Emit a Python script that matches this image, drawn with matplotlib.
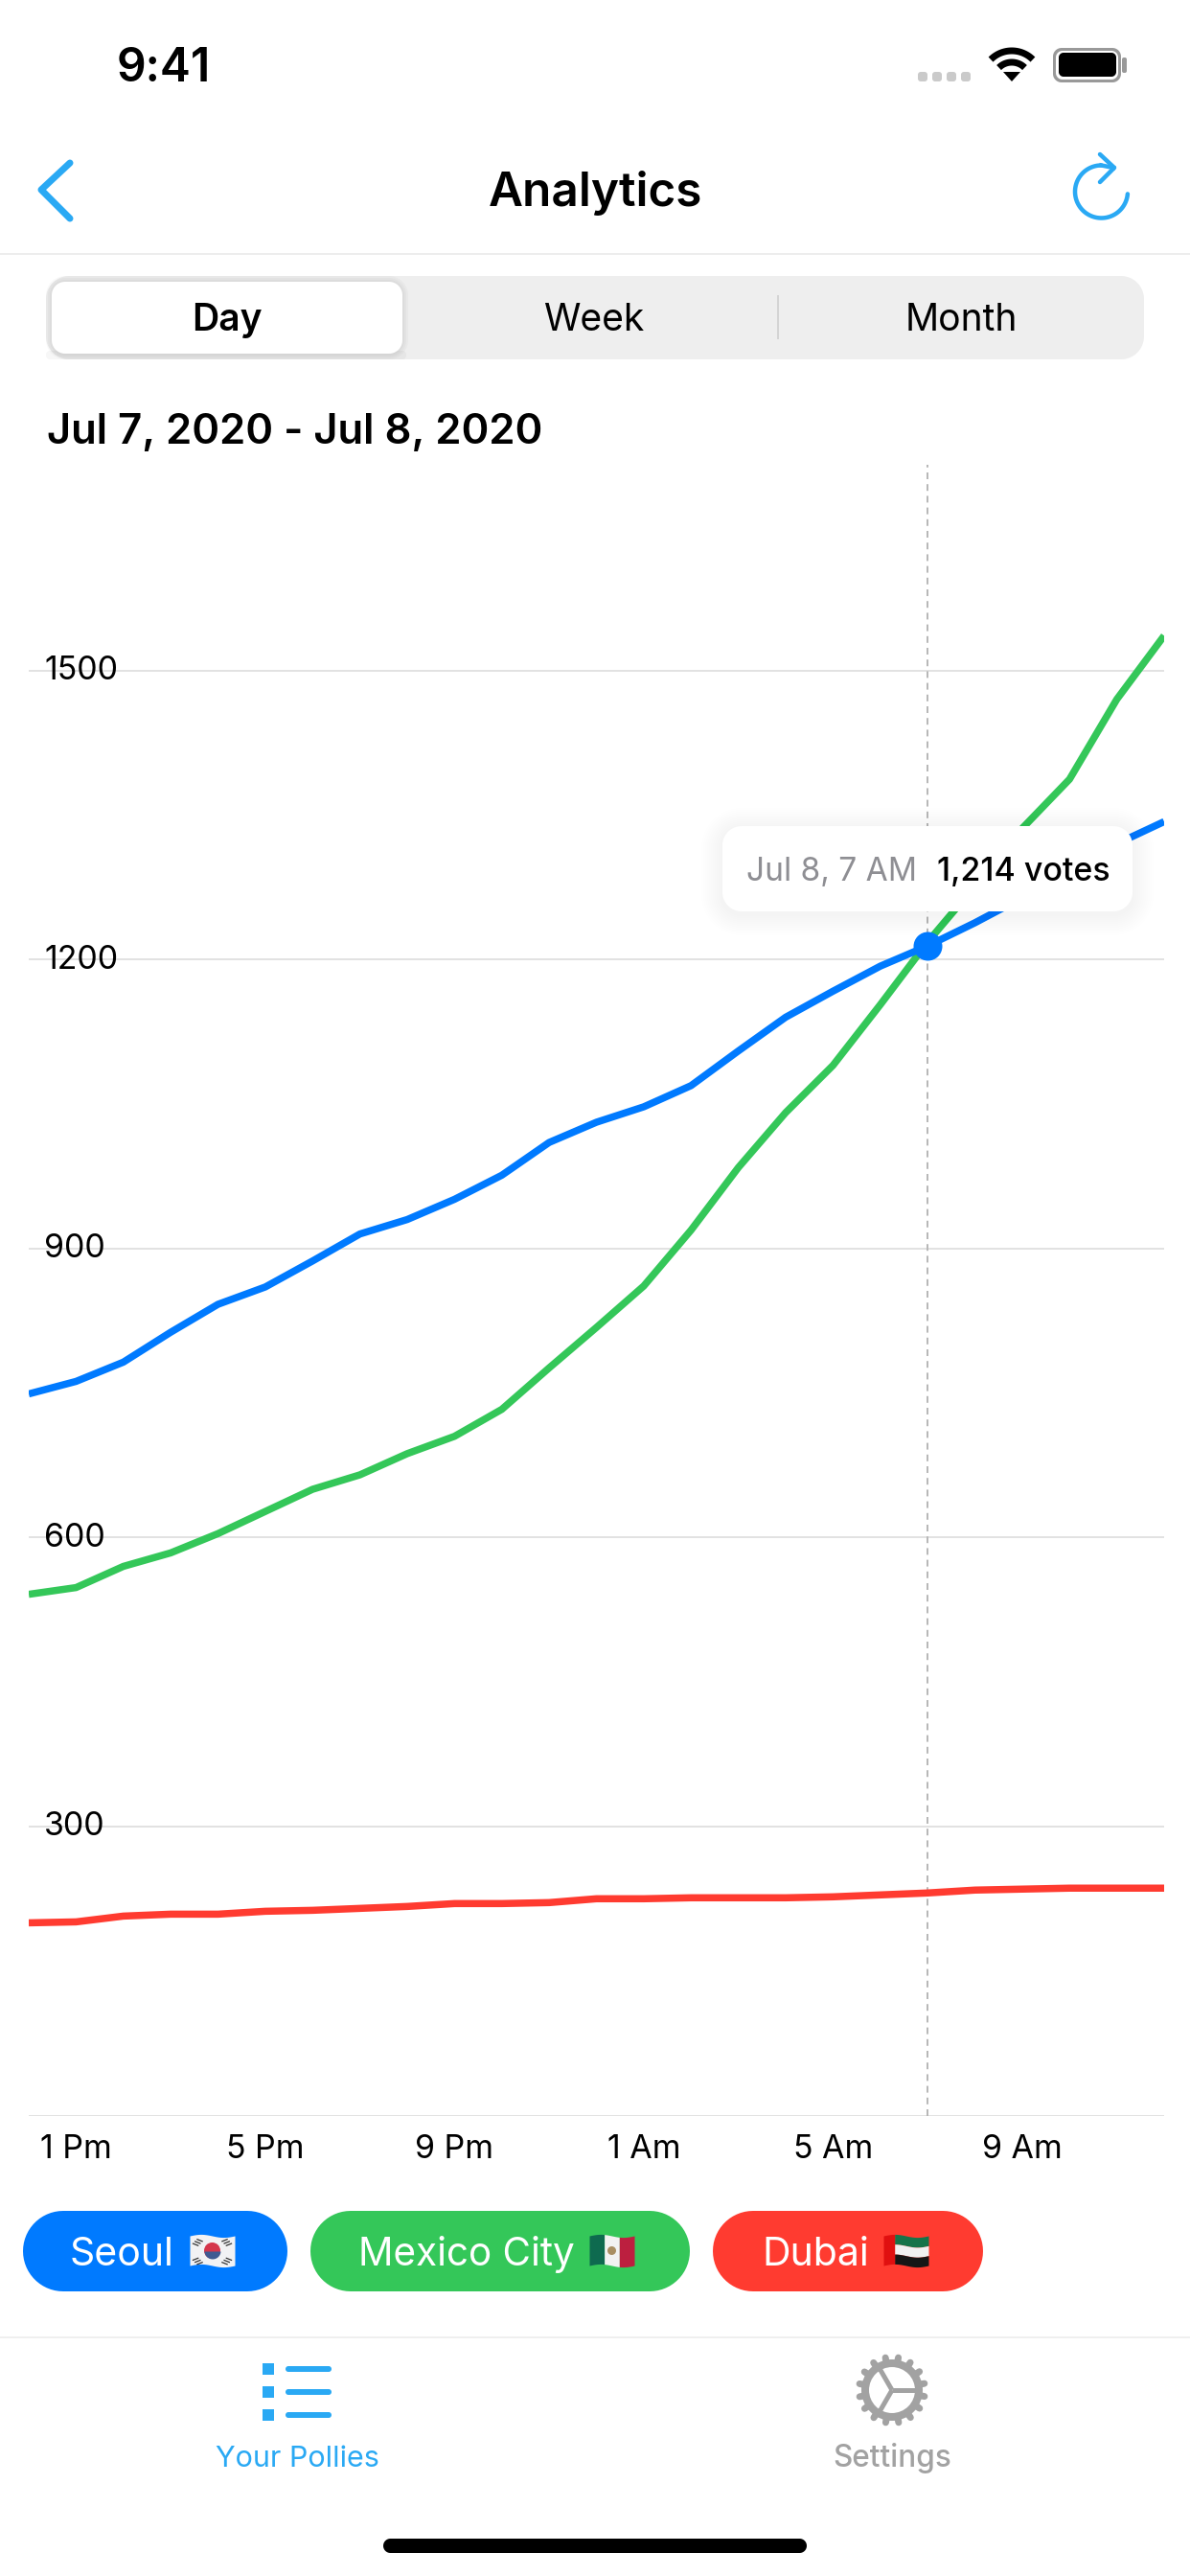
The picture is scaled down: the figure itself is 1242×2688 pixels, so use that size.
import numpy as np
import matplotlib
matplotlib.use('Agg')
import matplotlib.pyplot as plt
from matplotlib.patches import Rectangle, Circle, Polygon
from matplotlib.transforms import ScaledTranslation

plt.rcParams['font.family'] = ['Inter', 'DejaVu Sans']

# hourly votes, noon Jul 7 to noon Jul 8
seoul = [749, 762, 782, 813, 842, 860, 887, 915, 930, 951, 976, 1010, 1031, 1047, 1069,
         1105, 1140, 1167, 1193, 1214, 1238, 1264, 1292, 1320, 1343]
mexico_city = [541, 548, 570, 584, 604, 627, 650, 665, 687, 705, 733, 776, 818, 861, 919,
               984, 1041, 1090, 1153, 1218, 1276, 1336, 1387, 1470, 1536]
dubai = [200, 201, 207, 209, 209, 212, 213, 215, 217, 220, 220, 221, 225, 225, 226,
         226, 226, 227, 229, 231, 234, 235, 236, 236, 236]
hours = list(range(len(seoul)))

y_ticks = [0, 300, 600, 900, 1200, 1500]
y_labels = ['', '300', '600', '900', '1200', '1500']
x_ticks = [1, 5, 9, 13, 17, 21]
x_labels = ['1 Pm', '5 Pm', '9 Pm', '1 Am', '5 Am', '9 Am']
y_max = 1713.4
cursor_hour = 19
cursor_label = 'Jul 8, 7 AM'

segments = ['Day', 'Week', 'Month']
date_range = 'Jul 7, 2020 - Jul 8, 2020'

BLUE = '#007AFF'
GREEN = '#34C759'
RED = '#FF3B30'
ACCENT = '#2AA9F4'
GREY = '#A2A2A2'
W, H = 1242, 2688


def px(size):
    return size * 0.72


def box(ax, x0, y0, x1, y1, r, color, alpha=1.0, z=2):
    # rounded box with true circular corners, the fancy box corners come out too square
    pts = []
    corners = [(x1 - r, y0 + r, -90), (x1 - r, y1 - r, 0), (x0 + r, y1 - r, 90), (x0 + r, y0 + r, 180)]
    for cx, cy, start in corners:
        a = np.radians(np.linspace(start, start + 90, 16))
        pts.append(np.column_stack([cx + r * np.cos(a), cy + r * np.sin(a)]))
    ax.add_patch(Polygon(np.vstack(pts), closed=True, fc=color, ec='none', alpha=alpha, zorder=z))


def shadow(ax, x0, y0, x1, y1, r, spread, alpha, dy=0, z=2):
    for i in range(spread, 0, -2):
        box(ax, x0 - i, y0 - i + dy, x1 + i, y1 + i + dy, r + i, 'black', alpha, z)


def wavy(ax, x0, x1, y0, y1, color, x_span, z=5):
    # one band of an emoji flag, the cloth has a slight wave
    x = np.linspace(x0, x1, 20)
    off = 1.6 * np.sin((x - x_span[0]) / (x_span[1] - x_span[0]) * 2 * np.pi)
    ax.fill_between(x, y0 - off, y1 - off, color=color, lw=0, zorder=z)


def flag_korea(ax, x0, y0, x1, y1):
    span = (x0, x1)
    wavy(ax, x0, x1, y0, y1, '#F2F2F4', span)
    cx, cy = (x0 + x1) / 2, (y0 + y1) / 2
    ax.add_patch(Circle((cx, cy), 8.5, fc='#D5364C', ec='none', zorder=6))
    t = np.linspace(0, np.pi, 30)
    ax.fill_between(cx + 8.5 * np.cos(t), cy + 0.5, cy + 8.5 * np.sin(t), color='#3F5A92', lw=0, zorder=6)
    for sx, sy in [(-1, -1), (1, -1), (-1, 1), (1, 1)]:
        for k in range(3):
            ax.plot([cx + sx * (13 + k * 2.2) - sy * sx * 3.2, cx + sx * (13 + k * 2.2) + sy * sx * 3.2],
                    [cy + sy * (12 - k * 2.2), cy + sy * (12 - k * 2.2) + 2.5],
                    color='#333333', lw=0.9, zorder=6, solid_capstyle='butt')


def flag_mexico(ax, x0, y0, x1, y1):
    span = (x0, x1)
    third = (x1 - x0) / 3
    wavy(ax, x0, x0 + third, y0, y1, '#0E6A4F', span)
    wavy(ax, x0 + third, x1 - third, y0, y1, '#F2F2F2', span)
    wavy(ax, x1 - third, x1, y0, y1, '#BC1F3F', span)
    ax.add_patch(Circle(((x0 + x1) / 2, (y0 + y1) / 2), 4.5, fc='#A98E62', ec='none', zorder=6))


def flag_uae(ax, x0, y0, x1, y1):
    span = (x0, x1)
    split = x0 + (x1 - x0) * 0.25
    band = (y1 - y0) / 3
    wavy(ax, x0, split, y0, y1, '#E01010', span)
    wavy(ax, split, x1, y0, y0 + band, '#16744A', span)
    wavy(ax, split, x1, y0 + band, y0 + 2 * band, '#F1F1F1', span)
    wavy(ax, split, x1, y0 + 2 * band, y1, '#161616', span)


fig = plt.figure(figsize=(W / 100, H / 100), dpi=100, facecolor='white')

# chart
ax = fig.add_axes([30 / W, 1 - 2207.5 / H, (1215 - 30) / W, (2207.5 - 485) / H])
ax.set_xlim(0, 24)
ax.set_ylim(0, y_max)
for s in ax.spines.values():
    s.set_visible(False)
ax.set_yticks(y_ticks)
ax.set_yticklabels(y_labels, ha='left', fontsize=px(34))
ax.set_xticks(x_ticks)
ax.set_xticklabels(x_labels, fontsize=px(34))
ax.tick_params(axis='y', length=0, pad=px(-16))
ax.tick_params(axis='x', length=0, pad=px(19))
ax.grid(axis='y', color='#E2E2E2', lw=px(2))
ax.set_axisbelow(True)
lift = ScaledTranslation(0, 3 / 100, fig.dpi_scale_trans)
for tick in ax.yaxis.get_major_ticks():
    tick.label1.set_transform(tick.label1.get_transform() + lift)
    tick.label1.set_zorder(6)

ax.axvline(cursor_hour, color='#B8B8B8', lw=px(2), dashes=(3.5, 2.6), zorder=1.5)
ax.plot(hours, dubai, color=RED, lw=px(7.5), solid_capstyle='butt', zorder=2)
ax.plot(hours, mexico_city, color=GREEN, lw=px(7.5), solid_capstyle='butt', zorder=2.1)
ax.plot(hours, seoul, color=BLUE, lw=px(7.5), solid_capstyle='butt', zorder=2.2)
ax.plot([cursor_hour], [seoul[cursor_hour]], 'o', color=BLUE, ms=px(30), mew=0, zorder=3)

# phone chrome on a pixel sized overlay
ui = fig.add_axes([0, 0, 1, 1], zorder=5)
ui.set_xlim(0, W)
ui.set_ylim(H, 0)
ui.axis('off')

# status bar
ui.text(122, 85, '9:41', fontsize=px(48), weight='semibold', color='black', va='baseline')
for i in range(4):
    box(ui, 958 + i * 15, 75, 968 + i * 15, 85, 3, '#CACACA')
t = np.radians(np.linspace(45, 135, 30))
for r in [31, 19]:
    ui.plot(1056 + r * np.cos(t), 84 - r * np.sin(t), color='black', lw=px(7), solid_capstyle='butt')
ui.add_patch(Polygon([[1056, 85], [1047, 75], [1065, 75]], fc='black', ec='none'))
box(ui, 1099, 50, 1170, 86, 9, '#999999')
box(ui, 1102, 53, 1167, 83, 7, 'white')
box(ui, 1105, 55, 1165, 80, 5, 'black')
box(ui, 1171, 60, 1176, 76, 2, '#999999')

# nav bar
ui.plot([73, 43, 73], [170, 198, 228], color=ACCENT, lw=px(7), solid_capstyle='round', solid_joinstyle='round')
ui.text(621, 215, 'Analytics', fontsize=px(49.5), weight='semibold', ha='center', va='baseline', color='black')
t = np.radians(np.linspace(90, 355, 80))
ui.plot(1149.5 + 27.5 * np.cos(t), 200 - 27.5 * np.sin(t), color=ACCENT, lw=px(4.5), solid_capstyle='round')
ui.plot([1149.5, 1162], [172.5, 175], color=ACCENT, lw=px(4.5))
ui.plot([1148, 1163, 1148], [161, 175, 190], color=ACCENT, lw=px(4.5), solid_capstyle='round', solid_joinstyle='round')
ui.plot([0, W], [264.5, 264.5], color='#EDEDED', lw=px(2))

# segmented control
box(ui, 48, 288, 1194, 375, 24, '#EEEEEE')
shadow(ui, 54, 294, 420, 369, 14, 6, 0.025, z=2)
box(ui, 48, 366, 424, 375, 4, '#000000', 0.03, z=2)
box(ui, 54, 294, 420, 369, 14, 'white', z=3)
ui.plot([812, 812], [309, 353], color='#D4D4D4', lw=px(2))
for label, cx, wgt in zip(segments, [237, 620, 1003], ['semibold', 'normal', 'normal']):
    ui.text(cx, 345, label, fontsize=px(39), weight=wgt, ha='center', va='baseline', color='black', zorder=4)

ui.text(49, 463, date_range, fontsize=px(43.6), weight='semibold', va='baseline', color='black')

# tooltip
shadow(ui, 754, 862, 1182, 951, 20, 22, 0.004, dy=3, z=2)
box(ui, 754, 862, 1182, 951, 20, 'white', z=3)
ui.text(779, 919, cursor_label, fontsize=px(33.5), color='#8E8E93', va='baseline', zorder=4)
ui.text(978, 919, f'{seoul[cursor_hour]:,} votes', fontsize=px(34), weight='medium', color='black',
        va='baseline', zorder=4)

# city pills
box(ui, 24, 2307, 300, 2391, 42, BLUE)
ui.text(73, 2364, 'Seoul', color='white', fontsize=px(41), va='baseline', zorder=4)
flag_korea(ui, 198, 2333, 245, 2364)
box(ui, 324, 2307, 720, 2391, 42, GREEN)
ui.text(374, 2364, 'Mexico City', color='white', fontsize=px(40.5), va='baseline', zorder=4)
flag_mexico(ui, 615, 2333, 662, 2364)
box(ui, 744, 2307, 1026, 2391, 42, RED)
ui.text(795, 2364, 'Dubai', color='white', fontsize=px(41), va='baseline', zorder=4)
flag_uae(ui, 922, 2333, 969, 2364)

# tab bar
ui.plot([0, W], [2438.5, 2438.5], color='#EFEFEF', lw=px(2))
for y in [2472, 2496, 2520]:
    ui.add_patch(Rectangle((274, y - 6), 12, 12, fc=ACCENT, ec='none'))
    box(ui, 298, y - 3, 346, y + 3, 3, ACCENT)
ui.text(310, 2574, 'Your Pollies', color=ACCENT, fontsize=px(30.5), ha='center', va='baseline')

gx, gy = 931, 2494
ui.add_patch(Circle((gx, gy), 28, fc='none', ec=GREY, lw=px(8)))
for a in np.radians(np.arange(0, 360, 360 / 16) + 11):
    ui.plot([gx + 30 * np.cos(a), gx + 34.5 * np.cos(a)], [gy + 30 * np.sin(a), gy + 34.5 * np.sin(a)],
            color=GREY, lw=px(7), solid_capstyle='round')
for a in np.radians([0, 120, 240]):
    ui.plot([gx, gx + 27 * np.cos(a)], [gy, gy + 27 * np.sin(a)], color=GREY, lw=px(5), solid_capstyle='butt')
ui.text(931, 2574, 'Settings', color=GREY, fontsize=px(31.5), weight='medium', ha='center', va='baseline')

box(ui, 400, 2649, 842, 2664, 7.5, 'black')

fig.savefig('out.png', dpi=100)
